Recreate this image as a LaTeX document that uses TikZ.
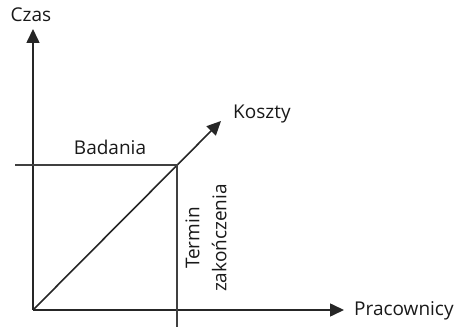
\documentclass[tikz,border=0pt]{standalone}
\usepackage{fontspec}
\setmainfont{Open Sans}
\usetikzlibrary{arrows.meta}
\begin{document}
\begin{tikzpicture}[x=1pt,y=-1pt,
  axis/.style={draw=black!85, line width=1.6pt, -{Triangle[length=14pt,width=13pt]}},
  guide/.style={draw=black!75, line width=1.5pt},
  lbl/.style={font=\fontsize{19}{22}\selectfont, text=black!90, inner sep=0pt}]
\useasboundingbox (0,0) rectangle (460,328);
\coordinate (O) at (33,310);
\coordinate (ytip) at (33,29);
\coordinate (xtip) at (344,310);
\coordinate (ctip) at (221,121);
\coordinate (L) at (15,165);
\coordinate (M) at (177,165);
\coordinate (B) at (177,327);
\draw[axis] (O) -- (ytip);
\draw[axis] (O) -- (xtip);
\draw[axis] (O) -- (ctip);
\draw[guide] (L) -- (M) -- (B);
\node[lbl] (czas) at (31,15) {Czas};
\node[lbl, anchor=west] (prac) at (354,311) {Pracownicy};
\node[lbl, anchor=west] (koszty) at (233,114) {Koszty};
\node[lbl] (badania) at (110,147) {Badania};
\node[lbl, rotate=90, align=center, font=\fontsize{19}{27}\selectfont] (termin) at (206,238) {Termin\\zakończenia};
\end{tikzpicture}
\end{document}
